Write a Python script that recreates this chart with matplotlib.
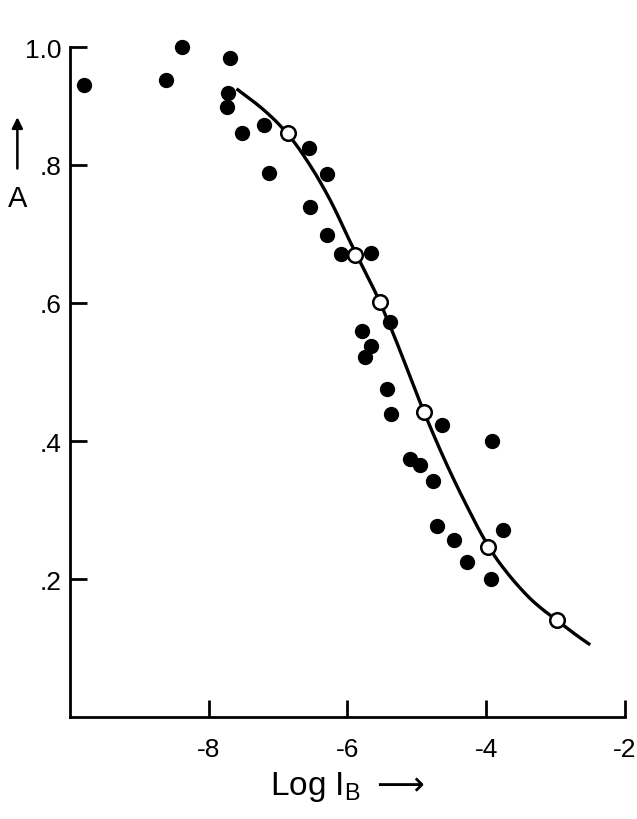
import numpy as np
import matplotlib.pyplot as plt

plt.rcParams['font.family'] = ['Liberation Sans', 'DejaVu Sans']

# filled points
log_ib = [-9.80, -8.62, -8.39, -7.69, -7.72, -7.74, -7.52, -7.20, -7.13, -6.56,
          -6.54, -6.30, -6.30, -6.10, -5.66, -5.79, -5.75, -5.66, -5.39, -5.43,
          -5.37, -5.10, -4.96, -4.77, -4.64, -4.71, -4.47, -4.27, -3.93, -3.92, -3.76]
a_val = [0.916, 0.923, 0.971, 0.955, 0.904, 0.884, 0.846, 0.858, 0.788, 0.825,
         0.739, 0.786, 0.699, 0.671, 0.673, 0.560, 0.521, 0.538, 0.573, 0.476,
         0.439, 0.374, 0.366, 0.342, 0.423, 0.277, 0.257, 0.225, 0.200, 0.400, 0.271]

# open circles
open_x = [-6.86, -5.89, -5.53, -4.90, -3.98, -2.98]
open_y = [0.846, 0.670, 0.601, 0.442, 0.247, 0.141]

# fitted curve
curve_x = [-7.6, -7.2, -6.86, -6.6, -6.3, -6.1, -5.89, -5.7, -5.53, -5.35, -5.2,
           -5.05, -4.90, -4.7, -4.5, -4.25, -3.98, -3.75, -3.5, -3.25, -2.98, -2.75, -2.5]
curve_y = [0.91, 0.88, 0.846, 0.81, 0.76, 0.72, 0.67, 0.64, 0.60, 0.56, 0.52,
           0.48, 0.442, 0.395, 0.35, 0.30, 0.247, 0.215, 0.185, 0.16, 0.141, 0.122, 0.105]

fig = plt.figure(figsize=(6.37, 8.2), dpi=100)
ax = fig.add_axes([0.11, 0.124, 0.871, 0.817])

# smooth the read curve a little for drawing
xs = np.linspace(curve_x[0], curve_x[-1], 400)
ys = np.interp(xs, curve_x, curve_y)
k = 15
ys_s = np.convolve(np.pad(ys, k, mode='reflect', reflect_type='odd'), np.ones(2 * k + 1) / (2 * k + 1), mode='valid')
ax.plot(xs, ys_s, color='black', lw=2.4, zorder=2, solid_capstyle='butt')

ax.scatter(log_ib, a_val, s=100, color='black', zorder=3, clip_on=False)
ax.scatter(open_x, open_y, s=110, facecolor='white', edgecolor='black',
           linewidths=1.8, zorder=4)

# the original axis is drawn a little short at the top; the top tick is labelled 1.0
ax.set_xlim(-10, -2)
ax.set_ylim(0, 0.97)
ax.spines['top'].set_visible(False)
ax.spines['right'].set_visible(False)
for s in ['left', 'bottom']:
    ax.spines[s].set_linewidth(2)
ax.set_xticks([-8, -6, -4, -2])
ax.set_xticklabels(['-8', '-6', '-4', '-2'])
ax.set_yticks([0.2, 0.4, 0.6, 0.8, 0.97])
ax.set_yticklabels(['.2', '.4', '.6', '.8', '1.0'])
ax.tick_params(direction='in', length=12, width=2, labelsize=19, pad=6)
ax.tick_params(axis='x', pad=14)

ax.annotate('', xy=(-0.095, 0.9), xytext=(-0.095, 0.815), xycoords='axes fraction',
            arrowprops=dict(arrowstyle='-|>', color='black', lw=1.8, mutation_scale=16))
ax.text(-0.095, 0.775, 'A', transform=ax.transAxes, ha='center',
        va='center', fontsize=21)
ax.set_xlabel('Log I$_\\mathregular{B}$ $\\longrightarrow$', fontsize=24, labelpad=6)

fig.savefig('out.png')
